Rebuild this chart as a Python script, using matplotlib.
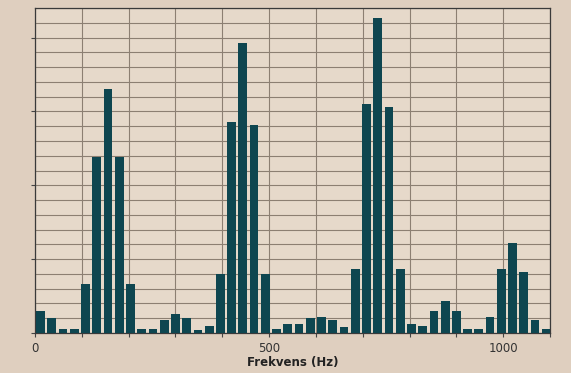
import matplotlib
matplotlib.use("Agg")
import matplotlib.pyplot as plt
import numpy as np

bin_width_hz = 24.0
amplitudes = [1.5, 1.0, 0.3, 0.3, 3.3, 11.9, 16.5, 11.9, 3.3, 0.3,
              0.3, 0.9, 1.3, 1.0, 0.2, 0.5, 4.0, 14.3, 19.6, 14.1,
              4.0, 0.3, 0.6, 0.6, 1.0, 1.1, 0.9, 0.4, 4.3, 15.5,
              21.3, 15.3, 4.3, 0.6, 0.5, 1.5, 2.2, 1.5, 0.3, 0.3,
              1.1, 4.3, 6.1, 4.1, 0.9, 0.3]
xtick_values = [0, 500, 1000]
xlabel = "Frekvens (Hz)"

freqs = (np.arange(len(amplitudes)) + 0.5) * bin_width_hz

paper = "#e6d9ca"
fig = plt.figure(figsize=(5.71, 3.73), dpi=100, facecolor="#dfcfbf")
ax = fig.add_axes([35 / 571, 40 / 373, 515 / 571, 325 / 373])
ax.set_facecolor(paper)

ax.bar(freqs, amplitudes, width=bin_width_hz * 0.78, color="#0e4650",
       edgecolor="none", zorder=3)

ax.set_xlim(0, 1100)
ax.set_ylim(0, 22)
ax.set_xticks(np.arange(0, 1101, 100))
ax.set_xticklabels([str(v) if v in xtick_values else "" for v in range(0, 1101, 100)],
                   fontsize=8.5, color="#333333")
ax.set_yticks(np.arange(0, 23, 5))
ax.set_yticklabels([])
ax.set_yticks(np.arange(0, 23, 1), minor=True)
ax.grid(True, which="major", axis="x", color="#8c7f72", linewidth=0.8, zorder=1)
ax.grid(True, which="minor", axis="y", color="#8c7f72", linewidth=0.8, zorder=1)
ax.grid(True, which="major", axis="y", color="#8c7f72", linewidth=0.8, zorder=1)
ax.tick_params(axis="both", which="major", length=3, color="#444444")
ax.tick_params(axis="y", which="minor", length=0)
for s in ax.spines.values():
    s.set_color("#3a3a3a")
    s.set_linewidth(0.9)
ax.set_xlabel(xlabel, fontsize=8.5, fontweight="bold", color="#222222", labelpad=1)

fig.savefig("out.png", dpi=100, facecolor=fig.get_facecolor())
